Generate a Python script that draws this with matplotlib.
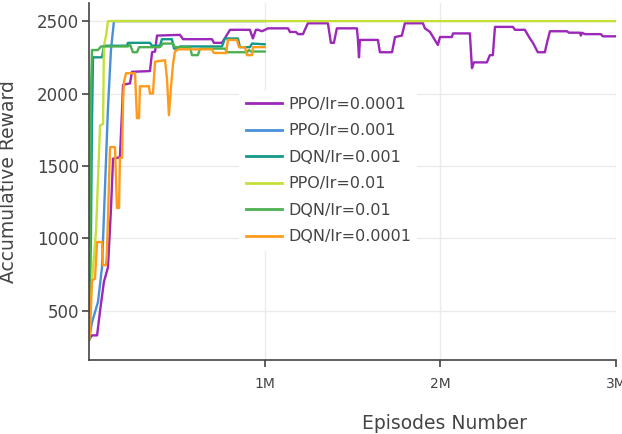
import matplotlib
matplotlib.use("Agg")
import matplotlib.pyplot as plt
from matplotlib.ticker import FuncFormatter

# episodes in millions, reward values
ppo_1e4_x = [0, 0.017, 0.046, 0.063, 0.085, 0.108, 0.125, 0.137, 0.176, 0.188, 0.194, 0.233, 0.245,
             0.347, 0.359, 0.376, 0.387, 0.518, 0.535, 0.700, 0.711, 0.757, 0.803, 0.916, 0.933, 0.950,
             0.962, 0.985, 1.019, 1.133, 1.144, 1.178, 1.190, 1.218, 1.229, 1.246, 1.360, 1.377, 1.394,
             1.411, 1.525, 1.531, 1.537, 1.542, 1.645, 1.656, 1.725, 1.742, 1.781, 1.798, 1.901, 1.912,
             1.941, 1.986, 1.998, 2.066, 2.072, 2.168, 2.180, 2.191, 2.265, 2.282, 2.299, 2.311, 2.413,
             2.425, 2.481, 2.510, 2.527, 2.555, 2.595, 2.607, 2.624, 2.721, 2.732, 2.795, 2.800, 2.806,
             2.823, 2.914, 2.925, 3.0]
ppo_1e4_y = [300, 330, 330, 500, 700, 800, 1200, 1550, 1560, 1880, 2060, 2070, 2150,
             2155, 2285, 2290, 2400, 2405, 2375, 2375, 2350, 2350, 2440, 2440, 2380, 2440,
             2440, 2430, 2450, 2450, 2425, 2425, 2410, 2410, 2440, 2485, 2485, 2350, 2350,
             2450, 2450, 2370, 2250, 2370, 2370, 2285, 2285, 2390, 2400, 2485, 2485, 2450,
             2425, 2335, 2390, 2390, 2415, 2415, 2175, 2215, 2215, 2265, 2265, 2460, 2460,
             2440, 2440, 2380, 2350, 2285, 2285, 2350, 2430, 2430, 2420, 2420, 2400, 2420,
             2410, 2410, 2395, 2395]

ppo_1e3_x = [0, 0.017, 0.034, 0.051, 0.074, 0.091, 0.108, 0.125, 0.142, 1.0]
ppo_1e3_y = [300, 420, 490, 560, 800, 1350, 1900, 2300, 2500, 2500]

dqn_1e3_x = [0, 0.011, 0.017, 0.023, 0.074, 0.085, 0.216, 0.222, 0.347, 0.359, 0.404, 0.415, 0.472,
             0.484, 0.507, 0.518, 0.757, 0.774, 0.848, 0.859, 0.916, 0.928, 1.0]
dqn_1e3_y = [300, 1000, 1800, 2250, 2250, 2330, 2330, 2350, 2350, 2330, 2330, 2375, 2375,
             2310, 2310, 2325, 2325, 2380, 2380, 2320, 2320, 2345, 2340]

ppo_1e2_x = [0, 0.011, 0.023, 0.040, 0.051, 0.063, 0.080, 0.085, 0.097, 0.108, 3.0]
ppo_1e2_y = [300, 600, 800, 1050, 1400, 1780, 1790, 2330, 2400, 2500, 2500]

dqn_1e2_x = [0, 0.006, 0.011, 0.017, 0.051, 0.068, 0.222, 0.233, 0.250, 0.273, 0.285, 0.404, 0.421,
             0.478, 0.489, 0.575, 0.586, 0.620, 0.632, 0.774, 0.785, 0.899, 0.911, 0.922, 1.0]
dqn_1e2_y = [300, 1000, 2000, 2300, 2300, 2325, 2325, 2340, 2285, 2285, 2320, 2320, 2345,
             2345, 2320, 2320, 2265, 2265, 2310, 2310, 2285, 2285, 2300, 2290, 2290]

dqn_1e4_x = [0, 0.006, 0.017, 0.034, 0.046, 0.074, 0.080, 0.097, 0.102, 0.114, 0.120, 0.148, 0.159,
             0.171, 0.176, 0.188, 0.194, 0.199, 0.211, 0.262, 0.273, 0.285, 0.290, 0.341, 0.347, 0.364,
             0.376, 0.433, 0.444, 0.455, 0.467, 0.478, 0.489, 0.507, 0.700, 0.711, 0.780, 0.791, 0.842,
             0.854, 0.888, 0.899, 0.928, 0.933, 1.0]
dqn_1e4_y = [300, 350, 710, 720, 975, 975, 815, 815, 900, 1400, 1630, 1630, 1210,
             1210, 1555, 1555, 1950, 2080, 2140, 2140, 1830, 1830, 2050, 2050, 2000, 2000,
             2220, 2230, 2100, 1850, 2050, 2200, 2290, 2305, 2305, 2280, 2280, 2370, 2370,
             2320, 2320, 2265, 2265, 2320, 2320]

series = [
    ("PPO/lr=0.0001", ppo_1e4_x, ppo_1e4_y, "#9c27b8"),
    ("PPO/lr=0.001", ppo_1e3_x, ppo_1e3_y, "#4a90d9"),
    ("DQN/lr=0.001", dqn_1e3_x, dqn_1e3_y, "#13998a"),
    ("PPO/lr=0.01", ppo_1e2_x, ppo_1e2_y, "#c6e03a"),
    ("DQN/lr=0.01", dqn_1e2_x, dqn_1e2_y, "#4cb050"),
    ("DQN/lr=0.0001", dqn_1e4_x, dqn_1e4_y, "#ff9a1c"),
]

fig = plt.figure(figsize=(6.22, 4.34), dpi=100)
ax = fig.add_axes([89 / 622, 1 - 360 / 434, 527 / 622, 357 / 434])

for name, xs, ys, col in series:
    ax.plot([v * 1e6 for v in xs], ys, color=col, lw=1.7, label=name)

ax.set_xlim(0, 3e6)
ax.set_ylim(160, 2625)
ax.set_xticks([1e6, 2e6, 3e6])
ax.set_yticks([500, 1000, 1500, 2000, 2500])
ax.xaxis.set_major_formatter(FuncFormatter(lambda v, p: "%dM" % round(v / 1e6)))

ax.grid(True, color="#ebebeb", lw=1)
ax.set_axisbelow(True)
for s in ["top", "right"]:
    ax.spines[s].set_visible(False)
for s in ["left", "bottom"]:
    ax.spines[s].set_color("#444444")
    ax.spines[s].set_linewidth(1.2)

ax.tick_params(axis="y", length=5, width=1.2, color="#444444", labelcolor="#444444",
               labelsize=12, pad=2)
ax.tick_params(axis="x", length=5, width=1.2, color="#444444", labelcolor="#444444",
               labelsize=10, pad=7)

ax.set_ylabel("Accumulative Reward", fontsize=13.5, color="#444444")
ax.yaxis.set_label_coords(-0.135, 0.5)
ax.set_xlabel("Episodes Number", fontsize=13.5, color="#444444")
ax.xaxis.set_label_coords(0.675, -0.15)

leg = ax.legend(loc="upper left", bbox_to_anchor=(0.27, 0.778), frameon=True,
                fontsize=11.5, handlelength=2.3, labelspacing=0.72, borderpad=0.4,
                handletextpad=0.35)
leg.get_frame().set_edgecolor("none")
leg.get_frame().set_facecolor("white")
leg.get_frame().set_alpha(1)
for t in leg.get_texts():
    t.set_color("#444444")
for l in leg.get_lines():
    l.set_linewidth(2)

fig.savefig("out.png", dpi=100)
